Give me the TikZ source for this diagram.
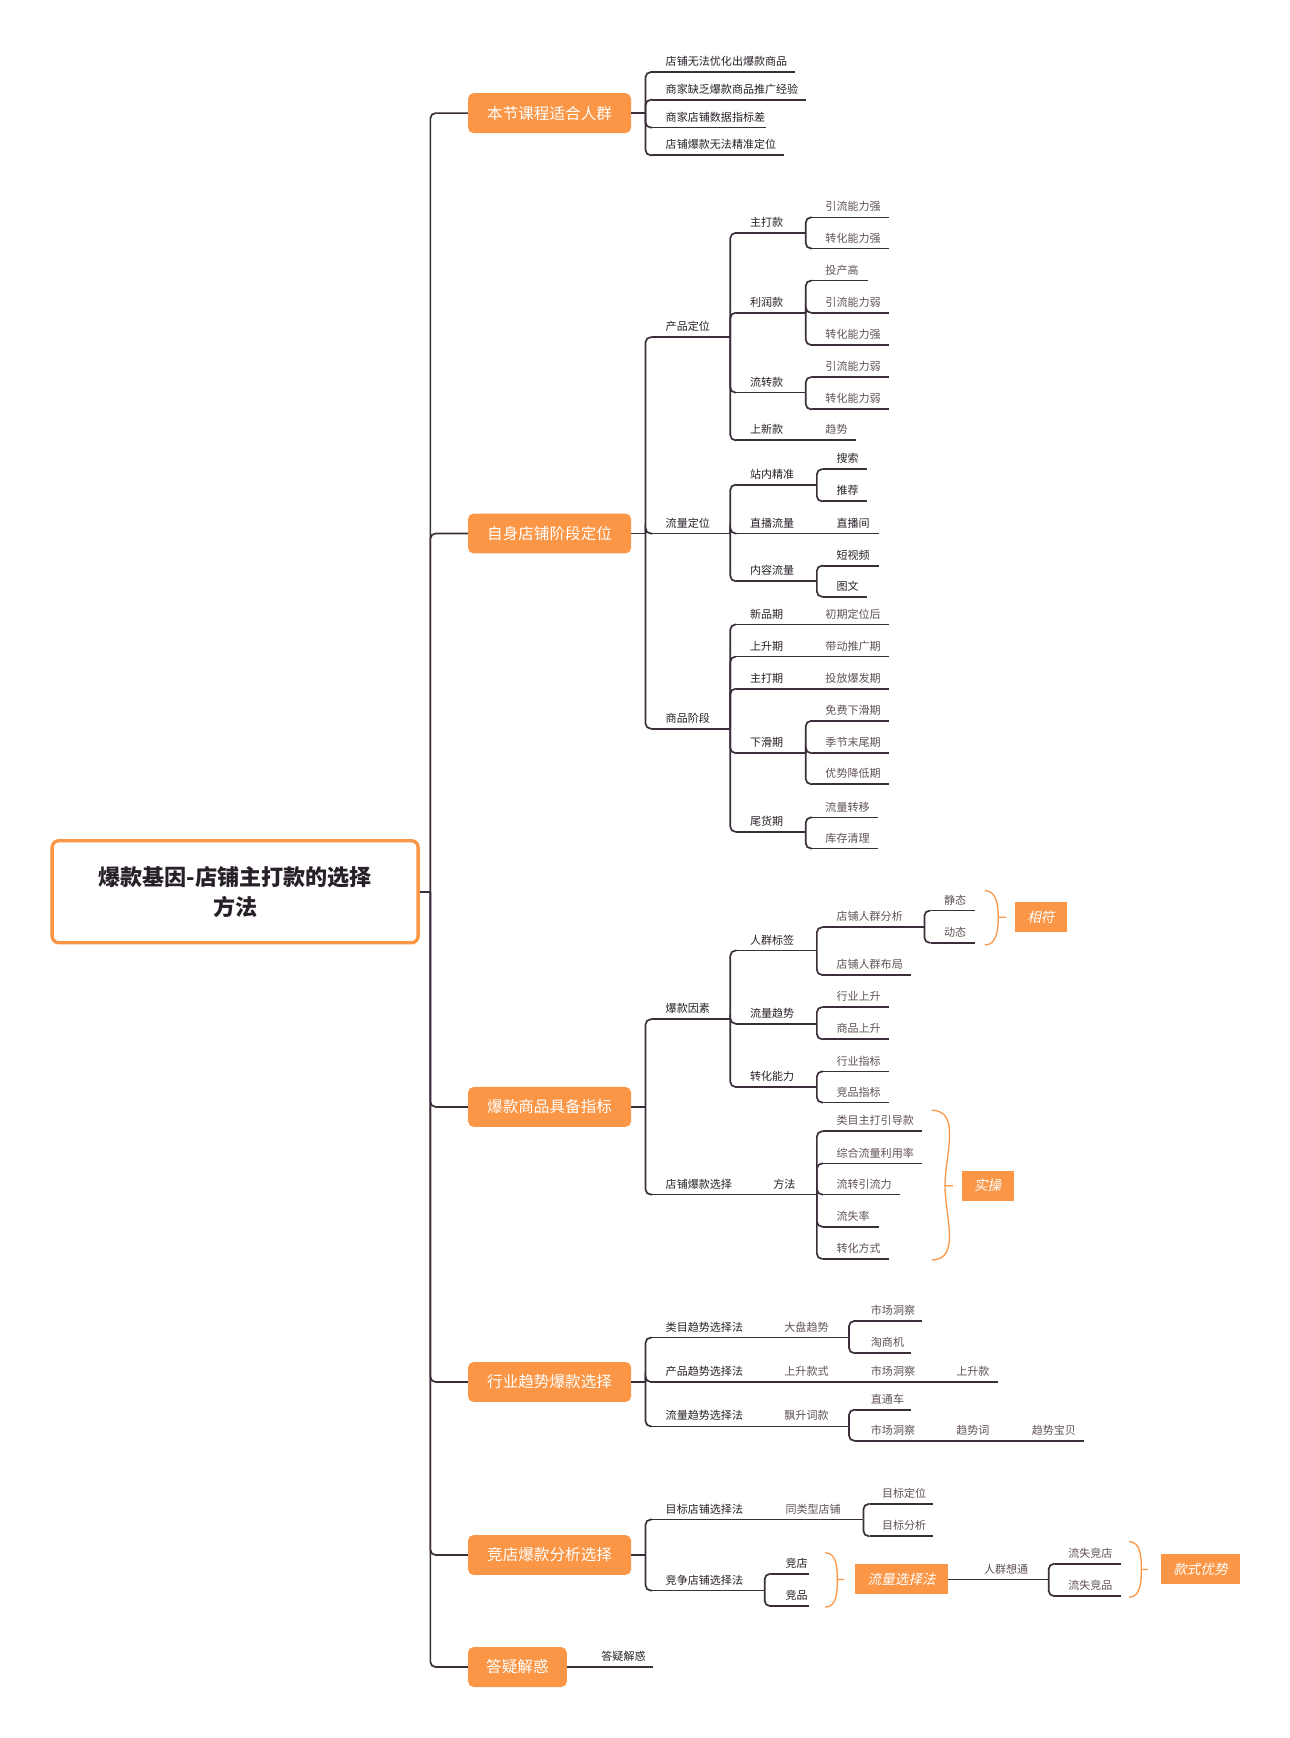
\documentclass[tikz,border=0pt]{standalone}
\usepackage{fontspec}
\setmainfont{Noto Sans CJK SC}
\newfontfamily\slcjk[FakeSlant=0.2]{Noto Sans CJK SC}
\usetikzlibrary{positioning}
\newdimen\pxu \pxu=0.03cm
\definecolor{orangec}{RGB}{250,150,70}
\definecolor{linec}{RGB}{58,46,58}
\definecolor{darkc}{RGB}{40,32,40}
\definecolor{leafc}{RGB}{95,80,88}

\begin{document}
\begin{tikzpicture}[x=0.03cm,y=-0.03cm]
    \tikzset{
        pad/.initial=12,
        link/.style={draw=linec, line width=1.3pt, rounded corners=4pt},
        uline/.style={draw=linec, line width=1.3pt},
        lbl/.style={anchor=south west, inner xsep=0pt, inner ysep=4pt, text width=#1\pxu, align=left,
            font=\fontsize{8.5}{10}\selectfont, text=darkc,
            execute at begin node={\hspace*{\pgfkeysvalueof{/tikz/pad}\pxu}},
            append after command={\pgfextra{\let\ulnode\tikzlastnode} (\ulnode.south west) edge[uline] (\ulnode.south east)}},
        leaf/.style={text=leafc},
        mainbox/.style={fill=orangec, rounded corners=5\pxu, text=white, font=\fontsize{12}{14}\selectfont,
            minimum width=147\pxu, minimum height=36\pxu, inner sep=0pt},
        tagbox/.style={fill=orangec, text=white, font=\slcjk\fontsize{10.5}{12}\selectfont, inner sep=0pt},
        brace/.style={draw=orangec, line width=1pt},
    }
    \useasboundingbox (0,0) rectangle (1163,1567);

    % root and trunk
    \node [draw=orangec, line width=3\pxu, rounded corners=6\pxu, fill=white, minimum width=330\pxu, minimum height=92\pxu,
           text width=300\pxu, align=center, text=darkc, font=\bfseries\fontsize{17}{23}\selectfont] (root) at (212,804)
           {爆款基因-店铺主打款的选择\\方法};
    \coordinate (trunk) at (388,804);

    \node [mainbox] (m1) at (495.5,102) {本节课程适合人群};
    \node [mainbox] (m2) at (495.5,481) {自身店铺阶段定位};
    \node [mainbox] (m3) at (495.5,998) {爆款商品具备指标};
    \node [mainbox] (m4) at (495.5,1246) {行业趋势爆款选择};
    \node [mainbox] (m5) at (495.5,1402) {竞店爆款分析选择};
    \node [mainbox, minimum width=89\pxu] (m6) at (466.5,1503) {答疑解惑};

    \draw[link] (root.east) -- (trunk);
    \foreach \m in {m1,m2,m3,m4,m5,m6}
        \draw[link] (trunk) |- (\m.west);

    % group 1
    \coordinate (b1) at (582,102);
    \node [lbl=128] (r1) at (588,65) {店铺无法优化出爆款商品};
    \node [lbl=138] (r2) at (588,90) {商家缺乏爆款商品推广经验};
    \node [lbl=102] (r3) at (588,115) {商家店铺数据指标差};
    \node [lbl=118] (r4) at (588,140) {店铺爆款无法精准定位};
    \draw[link] (m1.east) -- (b1);
    \foreach \c in {r1,r2,r3,r4}
        \draw[link] (b1) |- (\c.south west);

    % group 2
    \coordinate (b2) at (582,481);
    \node [lbl=70] (cpdw) at (588,304) {产品定位};
    \node [lbl=70] (lldw) at (588,481) {流量定位};
    \node [lbl=70] (spjd) at (588,657) {商品阶段};
    \draw[link] (m2.east) -- (b2);
    \foreach \c in {cpdw,lldw,spjd}
        \draw[link] (b2) |- (\c.south west);

    \node [lbl=62] (zdk) at (664,210) {主打款};
    \node [lbl=62] (lrk) at (664,282) {利润款};
    \node [lbl=62] (lzk) at (664,354) {流转款};
    \node [lbl=62] (sxk) at (664,397) {上新款};
    \foreach \c in {zdk,lrk,lzk,sxk}
        \draw[link] (cpdw.south east) |- (\c.south west);
    \node [lbl=69, leaf] (yl1) at (732,196) {引流能力强};
    \node [lbl=69, leaf] (zh1) at (732,224) {转化能力强};
    \node [lbl=50, leaf] (tcg) at (732,253) {投产高};
    \node [lbl=69, leaf] (yl2) at (732,282) {引流能力弱};
    \node [lbl=69, leaf] (zh2) at (732,311) {转化能力强};
    \node [lbl=69, leaf] (yl3) at (732,340) {引流能力弱};
    \node [lbl=69, leaf] (zh3) at (732,369) {转化能力弱};
    \node [lbl=39, leaf] (qs) at (732,397) {趋势};
    \foreach \c in {yl1,zh1} \draw[link] (zdk.south east) |- (\c.south west);
    \foreach \c in {tcg,yl2,zh2} \draw[link] (lrk.south east) |- (\c.south west);
    \foreach \c in {yl3,zh3} \draw[link] (lzk.south east) |- (\c.south west);
    \draw[link] (sxk.south east) -- (qs.south west);

    \node [lbl=72] (znjz) at (664,437) {站内精准};
    \node [lbl=72] (zbll) at (664,481) {直播流量};
    \node [lbl=72] (nrll) at (664,524) {内容流量};
    \foreach \c in {znjz,zbll,nrll}
        \draw[link] (lldw.south east) |- (\c.south west);
    \node [lbl=39] (ss) at (742,423) {搜索};
    \node [lbl=39] (tj) at (742,452) {推荐};
    \node [lbl=50] (zbj) at (742,481) {直播间};
    \node [lbl=50] (dsp) at (742,510) {短视频};
    \node [lbl=39] (tw) at (742,538) {图文};
    \foreach \c in {ss,tj} \draw[link] (znjz.south east) |- (\c.south west);
    \draw[link] (zbll.south east) -- (zbj.south west);
    \foreach \c in {dsp,tw} \draw[link] (nrll.south east) |- (\c.south west);

    \node [lbl=62] (xpq) at (664,563) {新品期};
    \node [lbl=62] (ssq) at (664,592) {上升期};
    \node [lbl=62] (zdq) at (664,621) {主打期};
    \node [lbl=62] (xhq) at (664,679) {下滑期};
    \node [lbl=62] (whq) at (664,750) {尾货期};
    \foreach \c in {xpq,ssq,zdq,xhq,whq}
        \draw[link] (spjd.south east) |- (\c.south west);
    \node [lbl=69, leaf] (cqdw) at (732,563) {初期定位后};
    \node [lbl=69, leaf] (ddtg) at (732,592) {带动推广期};
    \node [lbl=69, leaf] (tfbf) at (732,621) {投放爆发期};
    \node [lbl=69, leaf] (mfxh) at (732,650) {免费下滑期};
    \node [lbl=69, leaf] (jjmw) at (732,679) {季节末尾期};
    \node [lbl=69, leaf] (ysjd) at (732,707) {优势降低期};
    \node [lbl=59, leaf] (llzy) at (732,737) {流量转移};
    \node [lbl=59, leaf] (kcql) at (732,765) {库存清理};
    \draw[link] (xpq.south east) -- (cqdw.south west);
    \draw[link] (ssq.south east) -- (ddtg.south west);
    \draw[link] (zdq.south east) -- (tfbf.south west);
    \foreach \c in {mfxh,jjmw,ysjd} \draw[link] (xhq.south east) |- (\c.south west);
    \foreach \c in {llzy,kcql} \draw[link] (whq.south east) |- (\c.south west);

    % group 3
    \coordinate (b3) at (582,998);
    \node [lbl=70] (bkys) at (588,919) {爆款因素};
    \node [lbl=102] (dpbk) at (588,1077) {店铺爆款选择};
    \node [lbl=46, pad=7] (ff) at (690,1077) {方法};
    \draw[link] (m3.east) -- (b3);
    \foreach \c in {bkys,dpbk}
        \draw[link] (b3) |- (\c.south west);

    \node [lbl=72] (rqbq) at (664,857) {人群标签};
    \node [lbl=72] (llqs) at (664,923) {流量趋势};
    \node [lbl=72] (zhnl) at (664,980) {转化能力};
    \foreach \c in {rqbq,llqs,zhnl}
        \draw[link] (bkys.south east) |- (\c.south west);
    \node [lbl=91, leaf] (rqfx) at (742,836) {店铺人群分析};
    \node [lbl=79, leaf] (rqbj) at (742,879) {店铺人群布局};
    \node [lbl=40, leaf] (jt) at (839,821) {静态};
    \node [lbl=40, leaf] (dt) at (839,850) {动态};
    \node [lbl=59, leaf] (hyss) at (742,908) {行业上升};
    \node [lbl=59, leaf] (spss) at (742,937) {商品上升};
    \node [lbl=59, leaf] (hyzb) at (742,966) {行业指标};
    \node [lbl=59, leaf] (jpzb) at (742,994) {竞品指标};
    \foreach \c in {rqfx,rqbj} \draw[link] (rqbq.south east) |- (\c.south west);
    \foreach \c in {jt,dt} \draw[link] (rqfx.south east) |- (\c.south west);
    \foreach \c in {hyss,spss} \draw[link] (llqs.south east) |- (\c.south west);
    \foreach \c in {hyzb,jpzb} \draw[link] (zhnl.south east) |- (\c.south west);
    \draw[brace] (888,803) to[out=0,in=90] (900,827) to[out=-90,in=0] (888,852) (900,827) -- (907,827);
    \node [tagbox, minimum width=47\pxu, minimum height=27\pxu] (xf) at (938.5,827) {相符};

    \node [lbl=89, leaf] (lmzd) at (742,1020) {类目主打引导款};
    \node [lbl=89, leaf] (zhll) at (742,1049) {综合流量利用率};
    \node [lbl=69, leaf] (lzyl) at (742,1077) {流转引流力};
    \node [lbl=50, leaf] (lsl) at (742,1106) {流失率};
    \node [lbl=59, leaf] (zhfs) at (742,1135) {转化方式};
    \foreach \c in {lmzd,zhll,lzyl,lsl,zhfs}
        \draw[link] (ff.south east) |- (\c.south west);
    \draw[brace] (840,1001) to[out=0,in=90] (852,1069) to[out=-90,in=0] (840,1136) (852,1069) -- (859,1069);
    \node [tagbox, minimum width=47\pxu, minimum height=27\pxu] (sc) at (890.5,1069) {实操};

    % group 4
    \coordinate (b4) at (582,1246);
    \node [lbl=112] (lmqs) at (588,1206) {类目趋势选择法};
    \node [lbl=112] (cpqs) at (588,1246) {产品趋势选择法};
    \node [lbl=112] (llxz) at (588,1286) {流量趋势选择法};
    \draw[link] (m4.east) -- (b4);
    \foreach \c in {lmqs,cpqs,llxz}
        \draw[link] (b4) |- (\c.south west);
    \node [lbl=65, pad=7, leaf] (dpqs) at (700,1206) {大盘趋势};
    \node [lbl=71, pad=7, leaf] (sskx) at (700,1246) {上升款式};
    \node [lbl=77, pad=14, leaf] (scdc2) at (771,1246) {市场洞察};
    \node [lbl=51, pad=14, leaf] (ssk) at (848,1246) {上升款};
    \node [lbl=65, pad=7, leaf] (psck) at (700,1286) {飘升词款};
    \node [lbl=60, pad=14, leaf] (scdc1) at (771,1191) {市场洞察};
    \node [lbl=50, pad=14, leaf] (tsj) at (771,1220) {淘商机};
    \node [lbl=50, pad=14, leaf] (ztc) at (771,1271) {直通车};
    \node [lbl=77, pad=14, leaf] (scdc3) at (771,1299) {市场洞察};
    \node [lbl=74, pad=14, leaf] (tsc) at (848,1299) {趋势词};
    \node [lbl=55, pad=8, leaf] (tsbb) at (922,1299) {趋势宝贝};
    \foreach \c in {scdc1,tsj} \draw[link] (dpqs.south east) |- (\c.south west);
    \foreach \c in {ztc,scdc3} \draw[link] (psck.south east) |- (\c.south west);

    % group 5
    \coordinate (b5) at (582,1402);
    \node [lbl=102] (mbdp) at (588,1370) {目标店铺选择法};
    \node [lbl=101] (jzdp) at (588,1434) {竞争店铺选择法};
    \draw[link] (m5.east) -- (b5);
    \foreach \c in {mbdp,jzdp}
        \draw[link] (b5) |- (\c.south west);
    \node [lbl=88, pad=18, leaf] (tlx) at (690,1370) {同类型店铺};
    \node [lbl=57, pad=11, leaf] (mbdw) at (784,1356) {目标定位};
    \node [lbl=57, pad=11, leaf] (mbfx) at (784,1385) {目标分析};
    \foreach \c in {mbdw,mbfx} \draw[link] (tlx.south east) |- (\c.south west);
    \node [lbl=34, pad=13] (jd) at (695,1419) {竞店};
    \node [lbl=34, pad=13] (jp) at (695,1448) {竞品};
    \foreach \c in {jd,jp} \draw[link] (jzdp.south east) |- (\c.south west);
    \draw[brace] (744,1400) to[out=0,in=90] (755,1424) to[out=-90,in=0] (744,1449) (755,1424) -- (761,1424);
    \node [tagbox, minimum width=84\pxu, minimum height=27\pxu] (llxzf) at (813,1424) {流量选择法};
    \node [lbl=90, pad=32, leaf] (rqxt) at (855,1424) {人群想通};
    \node [lbl=59, leaf] (lsjd) at (951,1410) {流失竞店};
    \node [lbl=59, leaf] (lsjp) at (951,1439) {流失竞品};
    \foreach \c in {lsjd,lsjp} \draw[link] (rqxt.south east) |- (\c.south west);
    \draw[brace] (1018,1390) to[out=0,in=90] (1029,1415) to[out=-90,in=0] (1018,1440) (1029,1415) -- (1035,1415);
    \node [tagbox, minimum width=71\pxu, minimum height=27\pxu] (kssy) at (1082.5,1415) {款式优势};

    % group 6
    \node [lbl=66, pad=20] (dy) at (522,1503) {答疑解惑};
    \draw[link] (m6.east) -- (dy.south west);
\end{tikzpicture}
\end{document}
